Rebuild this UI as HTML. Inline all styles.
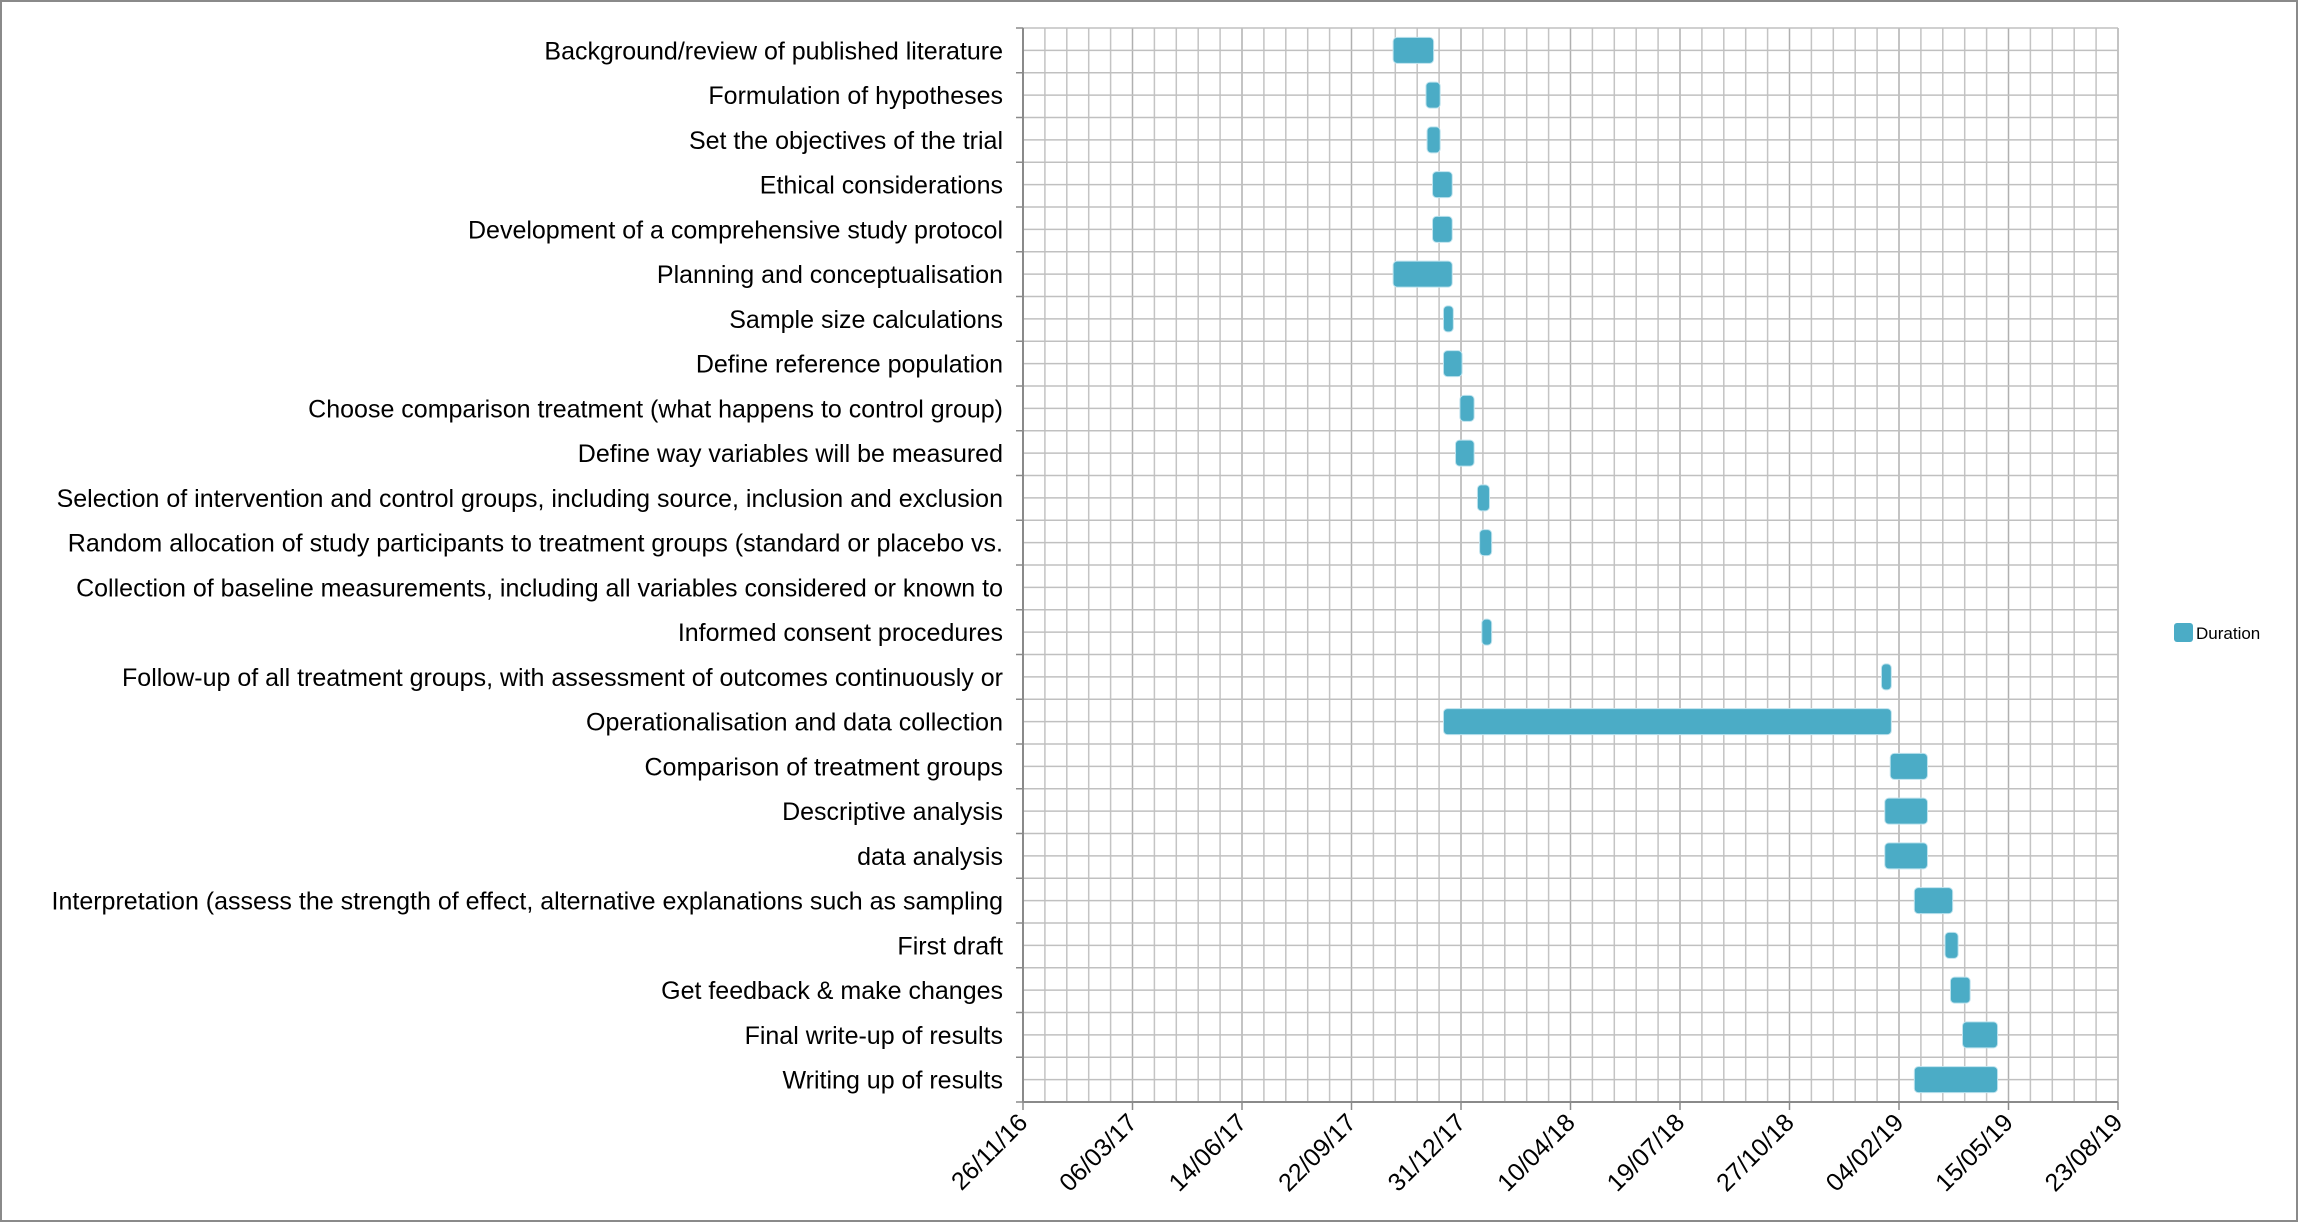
<!DOCTYPE html>
<html><head><meta charset="utf-8"><style>
html,body{margin:0;padding:0;background:#fff;}
svg{display:block;font-family:"Liberation Sans",Arial,sans-serif;}
</style></head><body>
<svg id="chart" width="2299" height="1223" xmlns="http://www.w3.org/2000/svg">
<rect x="1" y="1" width="2296" height="1220" fill="#fff" stroke="#8a8a8a" stroke-width="2"/>
<g id="grid"></g>
<g id="bars"></g>
<g id="ylabels"></g>
<g id="xlabels"></g>
<g>
<rect x="2174" y="623" width="19" height="19" rx="3" fill="#4bacc6"/>
<text x="2196" y="639" font-size="17" fill="#000" font-family="'Liberation Sans',sans-serif">Duration</text>
</g>
</svg>
<script>
const categories = [
"Background/review of published literature",
"Formulation of hypotheses",
"Set the objectives of the trial",
"Ethical considerations",
"Development of a comprehensive study protocol",
"Planning and conceptualisation",
"Sample size calculations",
"Define reference population",
"Choose comparison treatment (what happens to control group)",
"Define way variables will be measured",
"Selection of intervention and control groups, including source, inclusion and exclusion",
"Random allocation of study participants to treatment groups (standard or placebo vs.",
"Collection of baseline measurements, including all variables considered or known to",
"Informed consent procedures",
"Follow-up of all treatment groups, with assessment of outcomes continuously or",
"Operationalisation and data collection",
"Comparison of treatment groups",
"Descriptive analysis",
"data analysis",
"Interpretation (assess the strength of effect, alternative explanations such as sampling",
"First draft",
"Get feedback & make changes",
"Final write-up of results",
"Writing up of results"
];
// start offset (days since 26/11/16) and duration (days)
const startDays = [338,368,369,374,374,338,384,384,399,395,415,417,null,419,784,384,792,787,787,814,842,847,858,814];
const durations = [37,13,12,18,18,54,9,17,13,17,11,11,0,9,9,409,34,39,39,35,12,18,32,76];
const tickLabels = ["26/11/16","06/03/17","14/06/17","22/09/17","31/12/17","10/04/18","19/07/18","27/10/18","04/02/19","15/05/19","23/08/19"];
const tickStepDays = 100;

const NS = "http://www.w3.org/2000/svg";
const L = 1023, R = 2118, T = 28, B = 1102;
const maxDays = tickStepDays * (tickLabels.length - 1);
const xScale = d => L + (R - L) * d / maxDays;
const rowH = (B - T) / categories.length;
const yScale = i => T + rowH * (i + 0.5);
function mk(tag, attrs, parent){ const e=document.createElementNS(NS,tag); for(const k in attrs) e.setAttribute(k, attrs[k]); parent.appendChild(e); return e; }

const grid = document.getElementById('grid');
for (let d = 0; d <= maxDays; d += 20) {
  const x = xScale(d);
  const ln = mk('line', {x1:x, x2:x, y1:T, y2:B, stroke: d % 100 === 0 ? '#b0b0b0' : '#c4c4c4', 'stroke-width':1.5}, grid);
  
  
}
for (let h = 0; h <= categories.length * 2; h++) {
  const y = T + rowH * h / 2;
  const ln = mk('line', {x1:L, x2:R, y1:y, y2:y, stroke:'#c0c0c0', 'stroke-width':1.5}, grid);
  
  
}
for (let i = 0; i <= categories.length; i++) {
  const y = T + rowH * i;
  const t = mk('line', {x1:L-7, x2:L, y1:y, y2:y, stroke:'#8a8a8a', 'stroke-width':1.5}, grid);
  
  
}
const ya = mk('line', {x1:L, x2:L, y1:T, y2:B, stroke:'#8a8a8a', 'stroke-width':2}, grid);


const xa = mk('line', {x1:L, x2:R, y1:B, y2:B, stroke:'#8a8a8a', 'stroke-width':2}, grid);



const bars = document.getElementById('bars');
const barH = 26;
categories.forEach((c, i) => {
  if (startDays[i] === null || durations[i] <= 0) return;
  const x0 = xScale(startDays[i]), x1 = xScale(startDays[i] + durations[i]);
  const r = mk('rect', {x:x0, y:yScale(i)-barH/2, width:x1-x0, height:barH, rx:4, fill:'#4bacc6', stroke:'#bfe3ee', 'stroke-width':1}, bars);
  
  
});

const yl = document.getElementById('ylabels');
categories.forEach((c, i) => {
  const t = mk('text', {x:1003, y:yScale(i)+9, 'text-anchor':'end', 'font-size':25, fill:'#000'}, yl);
  t.textContent = c;
  
  
});

const xl = document.getElementById('xlabels');
tickLabels.forEach((lab, k) => {
  const x = xScale(k * tickStepDays);
  const tk = mk('line', {x1:x, x2:x, y1:B, y2:B+8, stroke:'#8a8a8a', 'stroke-width':1.5}, xl);
  
  
  const ax = x + 6, ay = B + 22;
  const t = mk('text', {x:ax, y:ay, 'text-anchor':'end', 'font-size':25, fill:'#000', transform:'rotate(-45 '+ax+' '+ay+')'}, xl);
  t.textContent = lab;
  
  
});
</script>
</body></html>
